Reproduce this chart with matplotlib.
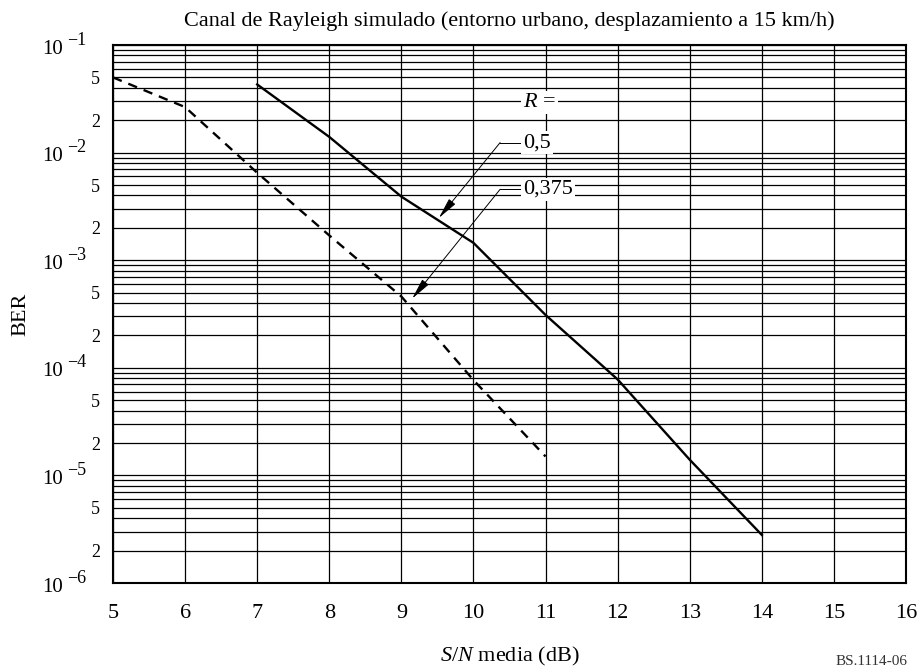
import numpy as np
import matplotlib
matplotlib.use("Agg")
import matplotlib.pyplot as plt
from matplotlib.ticker import FixedLocator, NullFormatter
from matplotlib.transforms import offset_copy

plt.rcParams['font.family'] = ['Liberation Serif', 'DejaVu Serif']
plt.rcParams['mathtext.fontset'] = 'custom'
plt.rcParams['mathtext.rm'] = 'Liberation Serif'
plt.rcParams['mathtext.it'] = 'Liberation Serif:italic'

# valores
snr_05 = [7, 8, 9, 10, 11, 12, 13, 14]
ber_05 = [4.3e-2, 1.4e-2, 3.9e-3, 1.45e-3, 3.1e-4, 7.8e-5, 1.4e-5, 2.8e-6]

snr_0375 = [5, 6, 7, 8, 9, 10, 11]
ber_0375 = [5.0e-2, 2.65e-2, 6.5e-3, 1.7e-3, 4.6e-4, 7.7e-5, 1.5e-5]

x_ticks = list(range(5, 17))
decades = [-6, -5, -4, -3, -2, -1]
minor_labels = [2, 5]

fig = plt.figure(figsize=(9.21, 6.68), dpi=100)
ax = fig.add_axes([0.1227, 0.1272, 0.8610, 0.8054])

ax.set_yscale('log')
ax.set_xlim(5, 16)
ax.set_ylim(1e-6, 1e-1)

# rejilla
ax.set_xticks(x_ticks)
ax.set_xticklabels([str(v) for v in x_ticks], fontsize=16)
ax.set_yticks([10.0 ** d for d in decades])
ax.yaxis.set_major_formatter(NullFormatter())
minor = []
for d in decades[:-1]:
    for m in range(2, 10):
        minor.append(m * 10.0 ** d)
ax.yaxis.set_minor_locator(FixedLocator(minor))
ax.yaxis.set_minor_formatter(NullFormatter())
ax.grid(True, which='both', axis='y', color='black', lw=0.9)
ax.grid(True, which='major', axis='x', color='black', lw=0.9)
ax.tick_params(which='both', length=0)
ax.tick_params(axis='x', pad=15)
for s in ax.spines.values():
    s.set_linewidth(1.5)

# etiquetas del eje y: 10 con exponente casi del mismo tamano, y 2 / 5
ytr = ax.get_yaxis_transform()
for d in decades:
    ax.text(-0.063, 10.0 ** d, '10', transform=offset_copy(ytr, fig, x=0, y=-4, units='dots'),
            ha='right', va='center', fontsize=15)
    ax.text(-0.058, 10.0 ** d, '\u2212%d' % (-d), transform=offset_copy(ytr, fig, x=0, y=5, units='dots'),
            ha='left', va='center', fontsize=13)
for d in decades[:-1]:
    for m in minor_labels:
        ax.text(-0.022, m * 10.0 ** d, str(m), transform=offset_copy(ytr, fig, x=0, y=-2, units='dots'),
                ha='center', va='center', fontsize=13)

ax.plot(snr_05, ber_05, color='black', lw=1.7, zorder=3)
ax.plot(snr_0375, ber_0375, color='black', lw=1.7, ls=(0, (4, 3)), zorder=3)

# anotaciones
box = dict(facecolor='white', edgecolor='none', pad=1.5)
ax.text(10.92, 2.9e-2, r'$R$ =', fontsize=16, ha='center', va='center', bbox=box, zorder=4)

arrow = dict(arrowstyle='-|>,head_length=1.3,head_width=0.25', color='black', lw=0.7,
             shrinkA=0, shrinkB=0)
for label, y_txt, tip in [('0,5', 1.24e-2, (9.52, 2.47e-3)),
                          ('0,375', 4.56e-3, (9.15, 4.4e-4))]:
    ax.plot([10.37, 10.69], [y_txt, y_txt], color='black', lw=0.7, zorder=4)
    ax.annotate('', xy=tip, xytext=(10.37, y_txt), arrowprops=arrow, zorder=4)
    ax.text(10.69, y_txt, label, fontsize=16, ha='left', va='center', bbox=box, zorder=4)

ax.set_title('Canal de Rayleigh simulado (entorno urbano, desplazamiento a 15 km/h)',
             fontsize=16, pad=14)
ax.set_ylabel('BER', fontsize=16)
ax.yaxis.set_label_coords(-0.104, 0.5)
ax.set_xlabel(r'$S/N$ media (dB)', fontsize=16, labelpad=16)
fig.text(0.985, 0.0, 'BS.1114-06', fontsize=11, ha='right', va='bottom', color='#333333')

fig.savefig('out.png', dpi=100)
